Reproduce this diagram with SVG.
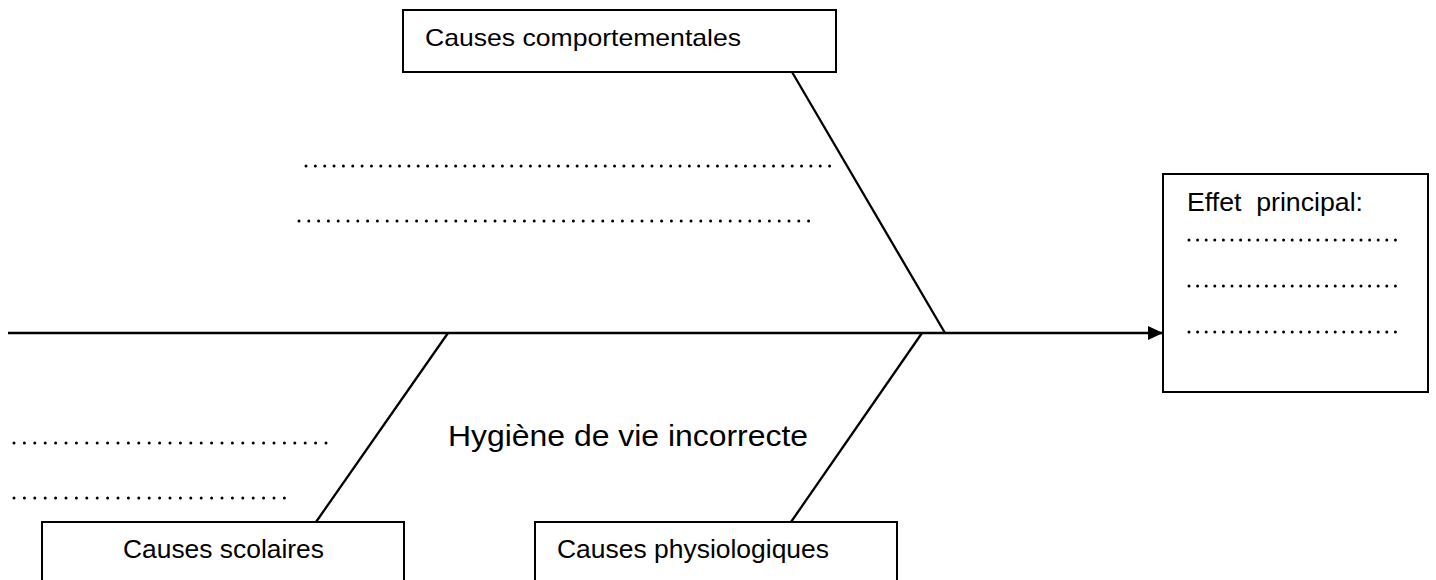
<svg xmlns="http://www.w3.org/2000/svg" width="1436" height="580" viewBox="0 0 1436 580">
<style>
.box{fill:#fff;stroke:#000;stroke-width:2}
.ln{stroke:#000;stroke-width:2.3;fill:none}
.dot{stroke:#000;stroke-width:3;stroke-linecap:round;fill:none}
.t{font-family:"Liberation Sans",Arial,sans-serif;fill:#000}
</style>
<defs>
<marker id="arr" markerWidth="15" markerHeight="14" refX="15" refY="7" orient="auto" markerUnits="userSpaceOnUse">
<path d="M0,0 L15,7 L0,14 Z" fill="#000"/>
</marker>
</defs>
<rect width="1436" height="580" fill="#fff"/>
<g id="connectors">
<line class="ln" x1="8" y1="333" x2="1163" y2="333" marker-end="url(#arr)"/>
<line class="ln" x1="792" y1="72" x2="945" y2="333"/>
<line class="ln" x1="448" y1="333" x2="316" y2="522"/>
<line class="ln" x1="922" y1="333" x2="791" y2="522"/>
</g>
<g id="dots">
<line class="dot" x1="306" y1="166" x2="838" y2="166" stroke-dasharray="0 9.35"/>
<line class="dot" x1="299" y1="221" x2="815" y2="221" stroke-dasharray="0 9.8"/>
<line class="dot" x1="14" y1="443" x2="327" y2="443" stroke-dasharray="0 10.4"/>
<line class="dot" x1="14" y1="498" x2="294" y2="498" stroke-dasharray="0 10.4"/>
</g>
<g id="label-main">
<text class="t" x="448" y="446" font-size="29" textLength="360" lengthAdjust="spacingAndGlyphs">Hygiène de vie incorrecte</text>
</g>
<g id="node-comportementales">
<rect class="box" x="403" y="10" width="433" height="62"/>
<text class="t" x="425" y="46" font-size="24" textLength="316" lengthAdjust="spacingAndGlyphs">Causes comportementales</text>
</g>
<g id="node-effet">
<rect class="box" x="1163" y="174" width="265" height="218"/>
<text class="t" x="1187" y="211" font-size="25" textLength="176" lengthAdjust="spacingAndGlyphs" xml:space="preserve">Effet  principal:</text>
<line class="dot" x1="1189" y1="240" x2="1396" y2="240" stroke-dasharray="0 8.6"/>
<line class="dot" x1="1189" y1="286" x2="1396" y2="286" stroke-dasharray="0 8.6"/>
<line class="dot" x1="1189" y1="332" x2="1396" y2="332" stroke-dasharray="0 8.6"/>
</g>
<g id="node-scolaires">
<rect class="box" x="42" y="522" width="362" height="70"/>
<text class="t" x="123" y="558" font-size="25" textLength="201" lengthAdjust="spacingAndGlyphs">Causes scolaires</text>
</g>
<g id="node-physiologiques">
<rect class="box" x="535" y="522" width="362" height="70"/>
<text class="t" x="557" y="558" font-size="25" textLength="272" lengthAdjust="spacingAndGlyphs">Causes physiologiques</text>
</g>
</svg>
